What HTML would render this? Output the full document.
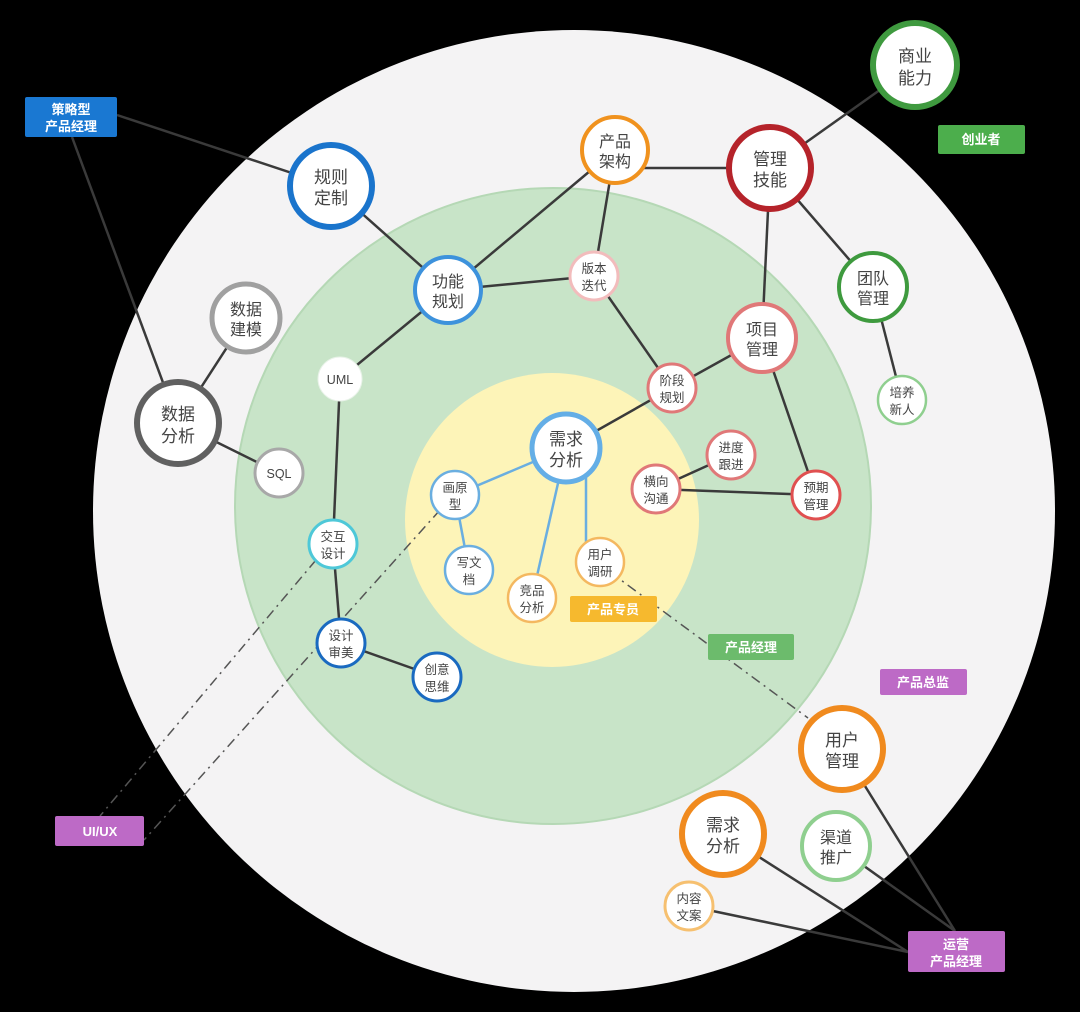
<!DOCTYPE html>
<html><head><meta charset="utf-8"><style>
html,body{margin:0;padding:0;background:#000;}
svg{display:block}
text{font-family:"Liberation Sans","Noto Sans CJK SC",sans-serif;}
</style></head><body>
<svg width="1080" height="1012" viewBox="0 0 1080 1012" xmlns="http://www.w3.org/2000/svg">
<rect width="1080" height="1012" fill="#000"/>
<circle cx="574" cy="511" r="481" fill="#f4f3f4"/>
<circle cx="553" cy="506" r="318" fill="#c8e4c8" stroke="#b5d8b5" stroke-width="2"/>
<circle cx="552" cy="520" r="147" fill="#fdf4b8"/>
<g stroke="#3a3a3a" stroke-width="2.5" fill="none">
<line x1="117" y1="115" x2="331" y2="186"/>
<line x1="72" y1="137" x2="178" y2="423"/>
<line x1="331" y1="186" x2="448" y2="290"/>
<line x1="448" y1="290" x2="615" y2="150"/>
<line x1="448" y1="290" x2="594" y2="276"/>
<line x1="615" y1="150" x2="594" y2="276"/>
<line x1="615" y1="168" x2="770" y2="168"/>
<line x1="770" y1="168" x2="915" y2="65"/>
<line x1="770" y1="168" x2="873" y2="287"/>
<line x1="770" y1="168" x2="762" y2="338"/>
<line x1="873" y1="287" x2="902" y2="400"/>
<line x1="762" y1="338" x2="816" y2="495"/>
<line x1="762" y1="338" x2="672" y2="388"/>
<line x1="594" y1="276" x2="672" y2="388"/>
<line x1="672" y1="388" x2="566" y2="448"/>
<line x1="656" y1="489" x2="731" y2="455"/>
<line x1="656" y1="489" x2="816" y2="495"/>
<line x1="448" y1="290" x2="340" y2="379"/>
<line x1="340" y1="379" x2="333" y2="544"/>
<line x1="333" y1="544" x2="341" y2="643"/>
<line x1="341" y1="643" x2="437" y2="677"/>
<line x1="246" y1="318" x2="178" y2="423"/>
<line x1="178" y1="423" x2="279" y2="473"/>
<line x1="842" y1="749" x2="955" y2="931"/>
<line x1="836" y1="846" x2="955" y2="931"/>
<line x1="723" y1="834" x2="908" y2="952"/>
<line x1="689" y1="906" x2="908" y2="952"/>
</g>
<g stroke="#6aaee0" stroke-width="2.5">
<line x1="566" y1="448" x2="455" y2="495"/>
<line x1="455" y1="495" x2="469" y2="570"/>
<line x1="566" y1="448" x2="532" y2="598"/>
<line x1="586" y1="448" x2="586" y2="545"/>
</g>
<g stroke="#555" stroke-width="1.5" stroke-dasharray="10,5,2,5" fill="none">
<line x1="316" y1="560" x2="100" y2="816"/>
<line x1="440" y1="510" x2="144" y2="840"/>
<line x1="610" y1="572" x2="808" y2="718"/>
</g>
<g fill="#fff">
<circle cx="915" cy="65" r="42" stroke="#3f9a3f" stroke-width="6"/>
<circle cx="331" cy="186" r="41" stroke="#1a74cc" stroke-width="6"/>
<circle cx="615" cy="150" r="33" stroke="#f0921e" stroke-width="4"/>
<circle cx="770" cy="168" r="41" stroke="#b5232a" stroke-width="6"/>
<circle cx="448" cy="290" r="33" stroke="#3d92dc" stroke-width="4"/>
<circle cx="594" cy="276" r="24" stroke="#f2bcbc" stroke-width="3"/>
<circle cx="246" cy="318" r="34" stroke="#a0a0a0" stroke-width="5"/>
<circle cx="873" cy="287" r="34" stroke="#3e9a3e" stroke-width="4"/>
<circle cx="762" cy="338" r="34" stroke="#e07878" stroke-width="4"/>
<circle cx="340" cy="379" r="22" stroke="#e8f2e8" stroke-width="1"/>
<circle cx="672" cy="388" r="24" stroke="#e07878" stroke-width="3"/>
<circle cx="178" cy="423" r="41" stroke="#606060" stroke-width="6"/>
<circle cx="902" cy="400" r="24" stroke="#8fcf8f" stroke-width="2.5"/>
<circle cx="566" cy="448" r="34" stroke="#64aee6" stroke-width="5"/>
<circle cx="731" cy="455" r="24" stroke="#e07878" stroke-width="3"/>
<circle cx="279" cy="473" r="24" stroke="#a8a8a8" stroke-width="3"/>
<circle cx="656" cy="489" r="24" stroke="#e07878" stroke-width="3"/>
<circle cx="816" cy="495" r="24" stroke="#e05050" stroke-width="3"/>
<circle cx="455" cy="495" r="24" stroke="#6aaee0" stroke-width="2.5"/>
<circle cx="333" cy="544" r="24" stroke="#4ec8d8" stroke-width="3"/>
<circle cx="469" cy="570" r="24" stroke="#6aaee0" stroke-width="2.5"/>
<circle cx="600" cy="562" r="24" stroke="#f4b860" stroke-width="2.5"/>
<circle cx="532" cy="598" r="24" stroke="#f4b860" stroke-width="2.5"/>
<circle cx="341" cy="643" r="24" stroke="#1a6ac0" stroke-width="3"/>
<circle cx="437" cy="677" r="24" stroke="#1a6ac0" stroke-width="3"/>
<circle cx="842" cy="749" r="41" stroke="#f08a1e" stroke-width="6"/>
<circle cx="723" cy="834" r="41" stroke="#f08a1e" stroke-width="6"/>
<circle cx="836" cy="846" r="34" stroke="#8fcf8f" stroke-width="4"/>
<circle cx="689" cy="906" r="24" stroke="#f6c070" stroke-width="3"/>
</g>
<g fill="#444" text-anchor="middle">
<g font-size="17">
<text x="915" y="62">商业</text><text x="915" y="84">能力</text>
<text x="331" y="183">规则</text><text x="331" y="204">定制</text>
<text x="770" y="165">管理</text><text x="770" y="186">技能</text>
<text x="178" y="420">数据</text><text x="178" y="442">分析</text>
<text x="842" y="746">用户</text><text x="842" y="767">管理</text>
<text x="723" y="831">需求</text><text x="723" y="852">分析</text>
<text x="566" y="445">需求</text><text x="566" y="466">分析</text>
</g>
<g font-size="16">
<text x="615" y="147">产品</text><text x="615" y="167">架构</text>
<text x="448" y="287">功能</text><text x="448" y="307">规划</text>
<text x="246" y="315">数据</text><text x="246" y="335">建模</text>
<text x="873" y="284">团队</text><text x="873" y="304">管理</text>
<text x="762" y="335">项目</text><text x="762" y="355">管理</text>
<text x="836" y="843">渠道</text><text x="836" y="863">推广</text>
</g>
<g font-size="12.5">
<text x="594" y="273">版本</text><text x="594" y="290">迭代</text>
<text x="340" y="384">UML</text>
<text x="672" y="385">阶段</text><text x="672" y="402">规划</text>
<text x="902" y="397">培养</text><text x="902" y="414">新人</text>
<text x="731" y="452">进度</text><text x="731" y="469">跟进</text>
<text x="279" y="478">SQL</text>
<text x="656" y="486">横向</text><text x="656" y="503">沟通</text>
<text x="816" y="492">预期</text><text x="816" y="509">管理</text>
<text x="455" y="492">画原</text><text x="455" y="509">型</text>
<text x="333" y="541">交互</text><text x="333" y="558">设计</text>
<text x="469" y="567">写文</text><text x="469" y="584">档</text>
<text x="600" y="559">用户</text><text x="600" y="576">调研</text>
<text x="532" y="595">竞品</text><text x="532" y="612">分析</text>
<text x="341" y="640">设计</text><text x="341" y="657">审美</text>
<text x="437" y="674">创意</text><text x="437" y="691">思维</text>
<text x="689" y="903">内容</text><text x="689" y="920">文案</text>
</g>
</g>
<g font-size="13" font-weight="bold" fill="#fff" text-anchor="middle">
<rect x="25" y="97" width="92" height="40" rx="2" fill="#1a78d2"/>
<text x="71" y="114">策略型</text><text x="71" y="131">产品经理</text>
<rect x="938" y="125" width="87" height="29" rx="2" fill="#4cae4c"/>
<text x="981" y="144">创业者</text>
<rect x="570" y="596" width="87" height="26" rx="2" fill="#f6b92e"/>
<text x="613" y="614">产品专员</text>
<rect x="708" y="634" width="86" height="26" rx="2" fill="#6cbb6c"/>
<text x="751" y="652">产品经理</text>
<rect x="880" y="669" width="87" height="26" rx="2" fill="#bd6ac6"/>
<text x="923" y="687">产品总监</text>
<rect x="55" y="816" width="89" height="30" rx="2" fill="#bd6ac6"/>
<text x="100" y="836">UI/UX</text>
<rect x="908" y="931" width="97" height="41" rx="2" fill="#bd6ac6"/>
<text x="956" y="949">运营</text><text x="956" y="966">产品经理</text>
</g>
</svg>
</body></html>
